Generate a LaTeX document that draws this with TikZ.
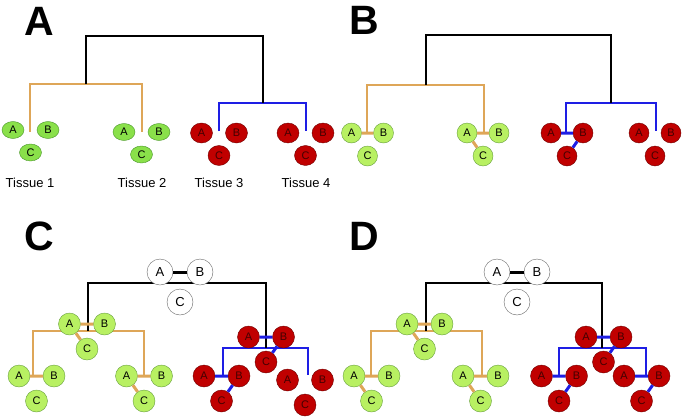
\documentclass[tikz,border=0pt]{standalone}
\usepackage{fontspec}
\setmainfont{Liberation Sans}
\usetikzlibrary{shapes.geometric}

\definecolor{leafg}{RGB}{138,224,74}
\definecolor{leafgd}{RGB}{72,150,40}
\definecolor{lightg}{RGB}{184,240,98}
\definecolor{lightgd}{RGB}{104,160,62}
\definecolor{tred}{RGB}{192,0,0}
\definecolor{tredd}{RGB}{112,0,0}
\definecolor{torange}{RGB}{222,166,88}
\definecolor{tblue}{RGB}{30,30,228}

\tikzset{
gA/.style={ellipse,draw=leafgd,fill=leafg,minimum width=22,minimum height=17,inner sep=0,font=\fontsize{11}{11}\selectfont},
rA/.style={ellipse,draw=tredd,fill=tred,text=tredd!60!black,minimum width=22,minimum height=20,inner sep=0,font=\fontsize{11}{11}\selectfont},
gn/.style={circle,draw=lightgd,fill=lightg,minimum size=#1,inner sep=0,font=\fontsize{11}{11}\selectfont},
rn/.style={circle,draw=tredd,fill=tred,text=tredd!60!black,minimum size=#1,inner sep=0,font=\fontsize{11}{11}\selectfont},
wn/.style={circle,draw=black!60,fill=white,minimum size=26,inner sep=0,font=\fontsize{13}{13}\selectfont},
panel/.style={inner sep=0,font=\fontsize{41}{41}\selectfont\bfseries},
tissue/.style={inner sep=0,font=\fontsize{13}{13}\selectfont},
ktree/.style={line width=1.8pt,black},
otree/.style={line width=1.8pt,torange},
btree/.style={line width=1.8pt,tblue},
obond/.style={line width=3pt,torange},
bbond/.style={line width=3pt,tblue},
kbond/.style={line width=3pt,black}
}

\begin{document}
\begin{tikzpicture}[x=1pt,y=-1pt]
\useasboundingbox (0,0) rectangle (683,418);

% panel labels
\node[panel] (pA) at (39,21) {A};
\node[panel] (pB) at (364,20) {B};
\node[panel] (pC) at (39,236) {C};
\node[panel] (pD) at (364,236) {D};

%%%%% A
\coordinate (a1) at (30,132);
\coordinate (a2) at (142,132);
\coordinate (a3) at (219,131);
\coordinate (a4) at (306,131);
\coordinate (a12) at (86,84);
\coordinate (a34) at (263,103);
\coordinate (aT) at (175,36);

\draw[otree] (a1) |- (a12) -| (a2);
\draw[btree] (a3) |- (a34) -| (a4);
\draw[ktree] (a12) |- (aT) -| (a34);

\foreach \i/\x/\y/\s in {1/30.5/130/gA,2/141.5/132/gA,3/219/133/rA,4/305.5/133/rA}
{
\node[\s] (a\i A) at (\x-17.5,\y) {A};
\node[\s] (a\i B) at (\x+17.5,\y) {B};
\node[\s] (a\i C) at (\x,\y+22.5) {C};
}

\foreach \i/\x in {1/30,2/142,3/219,4/306}
{
\node[tissue] (t\i) at (\x,183) {Tissue \i};
}

%%%%% B
\coordinate (b1) at (367,133);
\coordinate (b2) at (484,133);
\coordinate (b3) at (566,133);
\coordinate (b4) at (656,131);
\coordinate (b12) at (426,85);
\coordinate (b34) at (611,103);
\coordinate (bT) at (518,35);

\draw[otree] (b1) |- (b12) -| (b2);
\draw[btree] (b3) |- (b34) -| (b4);
\draw[ktree] (b12) |- (bT) -| (b34);

\foreach \i/\x/\s in {1/367.5/gn,2/483/gn,3/567/rn,4/655/rn}
{
\node[\s=20] (b\i A) at (\x-16,133) {A};
\node[\s=20] (b\i B) at (\x+16,133) {B};
\node[\s=20] (b\i C) at (\x,156) {C};
}

\draw[obond] (b1A)--(b1B) (b2A)--(b2B) (b2A)--(b2C);
\draw[bbond] (b3A)--(b3B) (b3B)--(b3C);

%%%%% C
\coordinate (c1) at (33,376);
\coordinate (c2) at (144,376);
\coordinate (c3) at (223,376);
\coordinate (c4) at (308,375);
\coordinate (c12) at (88,331);
\coordinate (c34) at (266,348);
\coordinate (cT) at (177,283);

\draw[otree] (c1) |- (c12) -| (c2);
\draw[btree] (c3) |- (c34) -| (c4);
\draw[ktree] (c12) |- (cT) -| (c34);

\node[wn] (cwA) at (160,272) {A};
\node[wn] (cwB) at (200,272) {B};
\node[wn] (cwC) at (180,302) {C};

\foreach \i/\x/\y/\s in {0/87/324/gn,1/36.5/376/gn,2/144/376/gn,5/266/337/rn,3/221.5/376/rn,4/305/380/rn}
{
\node[\s=22] (c\i A) at (\x-17.5,\y) {A};
\node[\s=22] (c\i B) at (\x+17.5,\y) {B};
\node[\s=22] (c\i C) at (\x,\y+25) {C};
}

\draw[kbond] (cwA)--(cwB);
\draw[obond] (c0A)--(c0B) (c0A)--(c0C) (c1A)--(c1B) (c2A)--(c2B) (c2A)--(c2C);
\draw[bbond] (c5A)--(c5B) (c5B)--(c5C) (c3A)--(c3B) (c3B)--(c3C);

%%%%% D
\coordinate (d1) at (371,376);
\coordinate (d2) at (482,376);
\coordinate (d3) at (559,376);
\coordinate (d4) at (646,376);
\coordinate (d12) at (426,331);
\coordinate (d34) at (602,348);
\coordinate (dT) at (514,283);

\draw[otree] (d1) |- (d12) -| (d2);
\draw[btree] (d3) |- (d34) -| (d4);
\draw[ktree] (d12) |- (dT) -| (d34);

\node[wn] (dwA) at (497,272) {A};
\node[wn] (dwB) at (537,272) {B};
\node[wn] (dwC) at (517,302) {C};

\foreach \i/\x/\y/\s in {0/424.5/324/gn,1/371.5/376/gn,2/480.5/376/gn,5/603.5/337/rn,3/559/376/rn,4/641.5/376/rn}
{
\node[\s=22] (d\i A) at (\x-17.5,\y) {A};
\node[\s=22] (d\i B) at (\x+17.5,\y) {B};
\node[\s=22] (d\i C) at (\x,\y+25) {C};
}

\draw[kbond] (dwA)--(dwB);
\draw[obond] (d0A)--(d0B) (d0A)--(d0C) (d1A)--(d1B) (d1A)--(d1C) (d2A)--(d2B) (d2A)--(d2C);
\draw[bbond] (d5A)--(d5B) (d5B)--(d5C) (d3A)--(d3B) (d3B)--(d3C) (d4A)--(d4B) (d4B)--(d4C);
\end{tikzpicture}
\end{document}
